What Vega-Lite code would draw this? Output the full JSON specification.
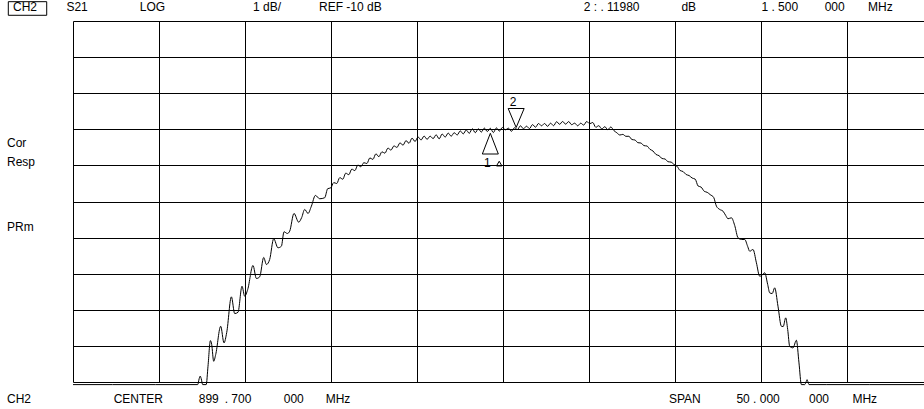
{
  "$schema": "https://vega.github.io/schema/vega-lite/v6.json",
  "width": 851,
  "height": 361,
  "autosize": {"type": "none"},
  "padding": {"left": 73, "top": 21, "right": 0, "bottom": 27},
  "background": "white",
  "config": {
    "view": {"stroke": null},
    "axis": {"gridColor": "#000", "gridOpacity": 1, "gridWidth": 1},
    "text": {"font": "Liberation Sans", "fontSize": 12, "color": "#000"}
  },
  "datasets": {
    "trace": [
      {"f": 874.7, "v": -20.072}, {"f": 877.0, "v": -20.072}, {"f": 879.5, "v": -20.072}, {"f": 881.5, "v": -20.072},
      {"f": 881.946, "v": -20.072}, {"f": 882.033, "v": -19.906}, {"f": 882.091, "v": -19.837},
      {"f": 882.149, "v": -19.906}, {"f": 882.236, "v": -20.072}, {"f": 882.44, "v": -20.072}, {"f": 882.544, "v": -19.565},
      {"f": 882.684, "v": -18.852}, {"f": 882.759, "v": -18.963}, {"f": 882.875, "v": -19.426}, {"f": 882.991, "v": -19.24},
      {"f": 883.282, "v": -18.456}, {"f": 883.474, "v": -18.916}, {"f": 883.631, "v": -18.631}, {"f": 883.904, "v": -17.641},
      {"f": 884.096, "v": -18.104}, {"f": 884.288, "v": -18.068}, {"f": 884.52, "v": -17.347}, {"f": 884.677, "v": -17.624},
      {"f": 884.851, "v": -17.438}, {"f": 885.159, "v": -16.773}, {"f": 885.357, "v": -17.133}, {"f": 885.548, "v": -17.086},
      {"f": 885.781, "v": -16.551}, {"f": 885.938, "v": -16.745}, {"f": 886.127, "v": -16.607}, {"f": 886.362, "v": -16.033},
      {"f": 886.611, "v": -16.282}, {"f": 886.809, "v": -16.238}, {"f": 886.96, "v": -15.839}, {"f": 887.158, "v": -15.886},
      {"f": 887.291, "v": -15.822}, {"f": 887.541, "v": -15.331}, {"f": 887.814, "v": -15.573}, {"f": 887.989, "v": -15.442},
      {"f": 888.163, "v": -15.22}, {"f": 888.355, "v": -15.331}, {"f": 888.552, "v": -15.129}, {"f": 888.785, "v": -14.832},
      {"f": 889.035, "v": -14.924},
      {"f": 889.325, "v": -14.896}, {"f": 889.5, "v": -14.644}, {"f": 889.675, "v": -14.624}, {"f": 889.85, "v": -14.477},
      {"f": 890.025, "v": -14.502}, {"f": 890.2, "v": -14.339}, {"f": 890.375, "v": -14.383}, {"f": 890.55, "v": -14.215},
      {"f": 890.725, "v": -14.258}, {"f": 890.9, "v": -14.103}, {"f": 891.075, "v": -14.145}, {"f": 891.25, "v": -13.992},
      {"f": 891.425, "v": -14.037}, {"f": 891.6, "v": -13.925}, {"f": 891.775, "v": -13.948}, {"f": 891.95, "v": -13.793},
      {"f": 892.125, "v": -13.834}, {"f": 892.3, "v": -13.68}, {"f": 892.475, "v": -13.759}, {"f": 892.65, "v": -13.624},
      {"f": 892.825, "v": -13.662}, {"f": 893.0, "v": -13.521}, {"f": 893.175, "v": -13.576}, {"f": 893.35, "v": -13.46},
      {"f": 893.525, "v": -13.502}, {"f": 893.7, "v": -13.374}, {"f": 893.875, "v": -13.441}, {"f": 894.05, "v": -13.313},
      {"f": 894.225, "v": -13.388}, {"f": 894.4, "v": -13.245}, {"f": 894.575, "v": -13.338}, {"f": 894.75, "v": -13.213},
      {"f": 894.925, "v": -13.296}, {"f": 895.1, "v": -13.188}, {"f": 895.275, "v": -13.277}, {"f": 895.45, "v": -13.19},
      {"f": 895.625, "v": -13.258}, {"f": 895.8, "v": -13.152}, {"f": 895.975, "v": -13.265}, {"f": 896.15, "v": -13.13},
      {"f": 896.325, "v": -13.216}, {"f": 896.5, "v": -13.105}, {"f": 896.675, "v": -13.191}, {"f": 896.85, "v": -13.095},
      {"f": 897.025, "v": -13.158}, {"f": 897.2, "v": -13.044}, {"f": 897.375, "v": -13.127}, {"f": 897.55, "v": -13.019},
      {"f": 897.725, "v": -13.111}, {"f": 897.9, "v": -12.985}, {"f": 898.075, "v": -13.094}, {"f": 898.25, "v": -12.986},
      {"f": 898.425, "v": -13.077}, {"f": 898.6, "v": -12.967}, {"f": 898.775, "v": -13.061}, {"f": 898.95, "v": -12.972},
      {"f": 899.125, "v": -13.09}, {"f": 899.3, "v": -12.961}, {"f": 899.475, "v": -13.05}, {"f": 899.65, "v": -12.95},
      {"f": 899.825, "v": -13.014}, {"f": 900.0, "v": -12.969}, {"f": 900.175, "v": -13.055}, {"f": 900.35, "v": -12.958},
      {"f": 900.525, "v": -13.005}, {"f": 900.7, "v": -12.903}, {"f": 900.875, "v": -12.986}, {"f": 901.05, "v": -12.914},
      {"f": 901.225, "v": -12.98}, {"f": 901.4, "v": -12.87}, {"f": 901.575, "v": -12.942}, {"f": 901.75, "v": -12.839},
      {"f": 901.925, "v": -12.903}, {"f": 902.1, "v": -12.839}, {"f": 902.275, "v": -12.917}, {"f": 902.45, "v": -12.831},
      {"f": 902.625, "v": -12.9}, {"f": 902.8, "v": -12.79}, {"f": 902.975, "v": -12.861}, {"f": 903.15, "v": -12.784},
      {"f": 903.325, "v": -12.858}, {"f": 903.5, "v": -12.786}, {"f": 903.675, "v": -12.872}, {"f": 903.85, "v": -12.83},
      {"f": 904.025, "v": -12.903}, {"f": 904.2, "v": -12.831}, {"f": 904.375, "v": -12.883}, {"f": 904.55, "v": -12.784},
      {"f": 904.725, "v": -12.845}, {"f": 904.9, "v": -12.811}, {"f": 905.075, "v": -12.944}, {"f": 905.25, "v": -12.9},
      {"f": 905.425, "v": -12.991}, {"f": 905.6, "v": -12.928}, {"f": 905.775, "v": -13.011}, {"f": 905.95, "v": -12.936},
      {"f": 906.125, "v": -13.033}, {"f": 906.3, "v": -13.097}, {"f": 906.475, "v": -13.158}, {"f": 906.65, "v": -13.141},
      {"f": 906.825, "v": -13.194}, {"f": 907.0, "v": -13.194}, {"f": 907.175, "v": -13.283}, {"f": 907.35, "v": -13.296},
      {"f": 907.525, "v": -13.371}, {"f": 907.7, "v": -13.38}, {"f": 907.875, "v": -13.452}, {"f": 908.05, "v": -13.463},
      {"f": 908.225, "v": -13.554}, {"f": 908.4, "v": -13.601}, {"f": 908.575, "v": -13.698}, {"f": 908.75, "v": -13.729},
      {"f": 908.925, "v": -13.809}, {"f": 909.1, "v": -13.823}, {"f": 909.275, "v": -13.898}, {"f": 909.45, "v": -13.909},
      {"f": 909.625, "v": -13.976}, {"f": 909.8, "v": -14.025}, {"f": 909.975, "v": -14.142}, {"f": 910.15, "v": -14.17},
      {"f": 910.325, "v": -14.253}, {"f": 910.5, "v": -14.281}, {"f": 910.675, "v": -14.35}, {"f": 910.85, "v": -14.38},
      {"f": 911.025, "v": -14.572}, {"f": 911.2, "v": -14.602}, {"f": 911.375, "v": -14.716}, {"f": 911.55, "v": -14.746},
      {"f": 911.725, "v": -14.81},
      {"f": 911.929, "v": -14.888}, {"f": 912.086, "v": -15.129}, {"f": 912.278, "v": -15.22}, {"f": 912.469, "v": -15.268},
      {"f": 912.626, "v": -15.387}, {"f": 912.76, "v": -15.478}, {"f": 912.957, "v": -15.451}, {"f": 913.149, "v": -15.664},
      {"f": 913.341, "v": -16.005}, {"f": 913.538, "v": -16.052}, {"f": 913.73, "v": -16.052}, {"f": 913.904, "v": -16.246},
      {"f": 914.02, "v": -16.377}, {"f": 914.212, "v": -16.329}, {"f": 914.41, "v": -16.698}, {"f": 914.601, "v": -17.07},
      {"f": 914.717, "v": -17.05}, {"f": 914.892, "v": -16.975}, {"f": 915.066, "v": -17.3}, {"f": 915.182, "v": -17.53},
      {"f": 915.327, "v": -17.549}, {"f": 915.472, "v": -17.391}, {"f": 915.664, "v": -17.901}, {"f": 915.862, "v": -18.456},
      {"f": 915.966, "v": -18.464}, {"f": 916.112, "v": -18.223}, {"f": 916.228, "v": -18.547}, {"f": 916.344, "v": -19.01},
      {"f": 916.536, "v": -19.055}, {"f": 916.733, "v": -18.844}, {"f": 916.884, "v": -19.471}, {"f": 917.024, "v": -20.072},
      {"f": 917.216, "v": -20.072}, {"f": 917.303, "v": -19.989}, {"f": 917.349, "v": -19.934}, {"f": 917.401, "v": -19.989},
      {"f": 917.465, "v": -20.072}, {"f": 918.5, "v": -20.072}, {"f": 921.0, "v": -20.072}, {"f": 924.15, "v": -20.072}
    ],
    "labels": [
      {"label": "CH2", "f": 871.214, "v": -9.723},
      {"label": "S21", "f": 874.317, "v": -9.723},
      {"label": "LOG", "f": 878.576, "v": -9.723},
      {"label": "1 dB/", "f": 885.159, "v": -9.723},
      {"label": "REF -10 dB", "f": 888.994, "v": -9.723},
      {"label": "2 : . 11980", "f": 904.375, "v": -9.723},
      {"label": "dB", "f": 910.052, "v": -9.723},
      {"label": "1 . 500", "f": 914.7, "v": -9.723},
      {"label": "000", "f": 918.378, "v": -9.723},
      {"label": "MHz", "f": 920.894, "v": -9.723},
      {"label": "CH2", "f": 870.865, "v": -20.568},
      {"label": "CENTER", "f": 877.065, "v": -20.568},
      {"label": "899", "f": 882.004, "v": -20.568},
      {"label": ". 700", "f": 883.515, "v": -20.568},
      {"label": "000", "f": 886.943, "v": -20.568},
      {"label": "MHz", "f": 889.383, "v": -20.568},
      {"label": "SPAN", "f": 909.331, "v": -20.568},
      {"label": "50 . 000", "f": 913.248, "v": -20.568},
      {"label": "000", "f": 917.466, "v": -20.568},
      {"label": "MHz", "f": 919.988, "v": -20.568},
      {"label": "Cor", "f": 870.865, "v": -13.482},
      {"label": "Resp", "f": 870.865, "v": -14.017},
      {"label": "PRm", "f": 870.865, "v": -15.817}
    ],
    "box": [{"f": 870.941, "f2": 873.172, "v": -9.465, "v2": -9.842}],
    "marker2": [{"f": 900.45, "v": -12.95}],
    "marker1": [{"f": 898.95, "v": -13.111}],
    "markerLabels": [
      {"label": "2", "f": 900.278, "v": -12.368},
      {"label": "1", "f": 898.779, "v": -14.036}
    ],
    "refSymbol": [{"f": 899.465, "v": -13.95}]
  },
  "encoding": {
    "x": {
      "field": "f", "type": "quantitative",
      "scale": {"domain": [874.7, 924.148], "nice": false, "zero": false},
      "axis": {"values": [874.7, 879.7, 884.7, 889.7, 894.7, 899.7, 904.7, 909.7, 914.7, 919.7], "grid": true, "labels": false, "ticks": false, "domain": false, "title": null}
    },
    "y": {
      "field": "v", "type": "quantitative",
      "scale": {"domain": [-20, -10], "nice": false, "zero": false},
      "axis": {"values": [-20, -19, -18, -17, -16, -15, -14, -13, -12, -11, -10], "grid": true, "labels": false, "ticks": false, "domain": false, "title": null}
    }
  },
  "layer": [
    {
      "data": {"name": "trace"},
      "mark": {"type": "line", "color": "#000", "strokeWidth": 1, "clip": false, "interpolate": "monotone"}
    },
    {
      "data": {"name": "marker2"},
      "mark": {"type": "point", "shape": "M0,0L-0.8,-1.9L0.8,-1.9Z", "size": 400, "filled": false, "stroke": "#000", "strokeWidth": 1, "opacity": 1}
    },
    {
      "data": {"name": "marker1"},
      "mark": {"type": "point", "shape": "M0,0L-0.8,2.07L0.8,2.07Z", "size": 400, "filled": false, "stroke": "#000", "strokeWidth": 1, "opacity": 1}
    },
    {
      "data": {"name": "refSymbol"},
      "mark": {"type": "point", "shape": "triangle-up", "size": 30, "filled": false, "stroke": "#000", "strokeWidth": 1, "opacity": 1}
    },
    {
      "data": {"name": "markerLabels"},
      "mark": {"type": "text", "align": "center", "baseline": "alphabetic"},
      "encoding": {"text": {"field": "label"}}
    },
    {
      "data": {"name": "labels"},
      "mark": {"type": "text", "align": "left", "baseline": "alphabetic"},
      "encoding": {"text": {"field": "label"}}
    },
    {
      "data": {"name": "box"},
      "mark": {"type": "rect", "fill": null, "stroke": "#000", "strokeWidth": 1},
      "encoding": {"x2": {"field": "f2"}, "y2": {"field": "v2"}}
    }
  ]
}
